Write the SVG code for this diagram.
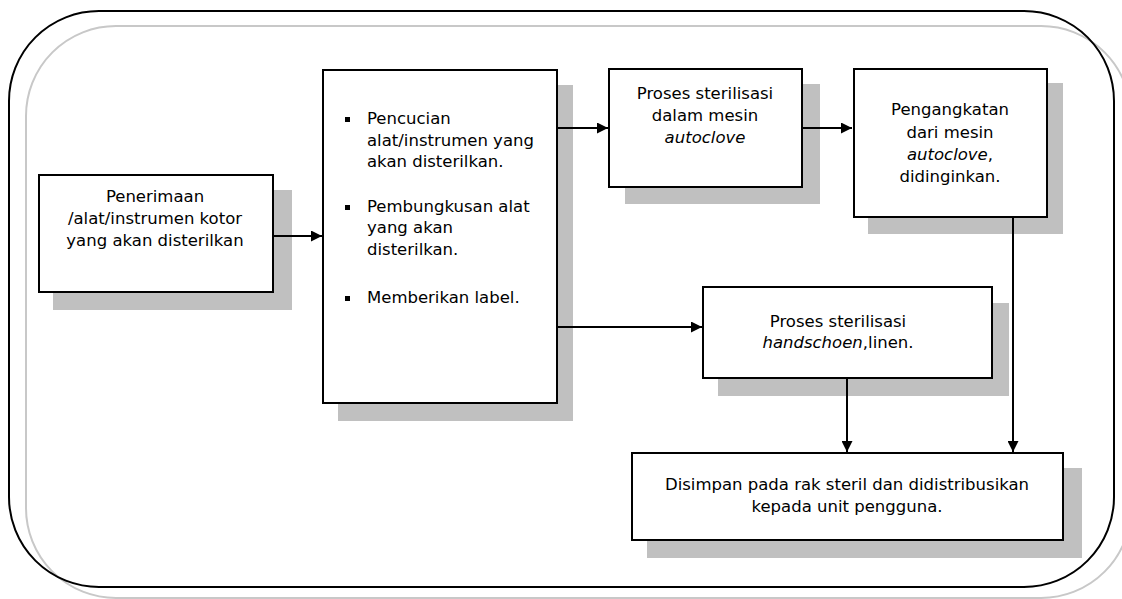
<svg xmlns="http://www.w3.org/2000/svg" width="1122" height="599" viewBox="0 0 1122 599">
  <style>
    .frame { fill: none; stroke: #000; stroke-width: 2; }
    .frame2 { fill: none; stroke: #c8c8c8; stroke-width: 2; }
    .shadow { fill: #c0c0c0; }
    .box { fill: #fff; stroke: #000; stroke-width: 2; }
    .t { font-family: "DejaVu Sans", Verdana, sans-serif; font-size: 16.5px; fill: #000; }
    .c { text-anchor: middle; }
    .i { font-style: italic; }
    .link { fill: none; stroke: #000; stroke-width: 2; }
  </style>
  <defs>
    <marker id="arrow" viewBox="0 0 10 10" refX="10" refY="5" markerWidth="5.5" markerHeight="5.5" orient="auto" markerUnits="strokeWidth">
      <path d="M0,0 L10,5 L0,10 Z" fill="#000"/>
    </marker>
  </defs>

  <rect width="1122" height="599" fill="#fff"/>

  <!-- outer frame with offset grey outline -->
  <rect class="frame2" x="26" y="26" width="1105" height="572" rx="90" ry="90"/>
  <rect class="frame" x="9" y="11" width="1105" height="576" rx="90" ry="90"/>

  <g id="penerimaan">
    <rect class="shadow" x="53" y="190" width="239" height="120"/>
    <rect class="box" x="39" y="175" width="234" height="117"/>
    <text class="t c" x="155" y="202">Penerimaan</text>
    <text class="t c" x="155" y="224">/alat/instrumen kotor</text>
    <text class="t c" x="155" y="246">yang akan disterilkan</text>
  </g>

  <g id="persiapan">
    <rect class="shadow" x="338" y="85" width="235" height="336"/>
    <rect class="box" x="323" y="70" width="234" height="333"/>
    <rect x="345" y="117" width="5" height="5" fill="#000"/>
    <text class="t" x="367" y="124">Pencucian</text>
    <text class="t" x="367" y="146">alat/instrumen yang</text>
    <text class="t" x="367" y="167">akan disterilkan.</text>
    <rect x="345" y="205" width="5" height="5" fill="#000"/>
    <text class="t" x="367" y="212">Pembungkusan alat</text>
    <text class="t" x="367" y="233">yang akan</text>
    <text class="t" x="367" y="255">disterilkan.</text>
    <rect x="345" y="296" width="5" height="5" fill="#000"/>
    <text class="t" x="367" y="303">Memberikan label.</text>
  </g>

  <g id="sterilisasi-autoclove">
    <rect class="shadow" x="625" y="84" width="195" height="120"/>
    <rect class="box" x="609" y="69" width="193" height="118"/>
    <text class="t c" x="705" y="99">Proses sterilisasi</text>
    <text class="t c" x="705" y="121">dalam mesin</text>
    <text class="t c i" x="705" y="143">autoclove</text>
  </g>

  <g id="pengangkatan">
    <rect class="shadow" x="868" y="83" width="195" height="151"/>
    <rect class="box" x="854" y="69" width="193" height="148"/>
    <text class="t c" x="950" y="115">Pengangkatan</text>
    <text class="t c" x="950" y="138">dari mesin</text>
    <text class="t c" x="950" y="160"><tspan class="i">autoclove</tspan>,</text>
    <text class="t c" x="950" y="182">didinginkan.</text>
  </g>

  <g id="sterilisasi-linen">
    <rect class="shadow" x="718" y="303" width="291" height="93"/>
    <rect class="box" x="703" y="287" width="289" height="91"/>
    <text class="t c" x="838" y="327">Proses sterilisasi</text>
    <text class="t c" x="838" y="348"><tspan class="i">handschoen</tspan>,linen.</text>
  </g>

  <g id="penyimpanan">
    <rect class="shadow" x="647" y="468" width="435" height="90"/>
    <rect class="box" x="632" y="453" width="431" height="87"/>
    <text class="t c" x="847" y="490">Disimpan pada rak steril dan didistribusikan</text>
    <text class="t c" x="847" y="512">kepada unit pengguna.</text>
  </g>

  <!-- connectors, drawn over the box shadows -->
  <g id="connectors">
    <line class="link" x1="273" y1="236" x2="322" y2="236" marker-end="url(#arrow)"/>
    <line class="link" x1="557" y1="128" x2="608" y2="128" marker-end="url(#arrow)"/>
    <line class="link" x1="802" y1="128" x2="852" y2="128" marker-end="url(#arrow)"/>
    <line class="link" x1="557" y1="327" x2="702" y2="327" marker-end="url(#arrow)"/>
    <line class="link" x1="847" y1="378" x2="847" y2="452" marker-end="url(#arrow)"/>
    <line class="link" x1="1013" y1="217" x2="1013" y2="452" marker-end="url(#arrow)"/>
  </g>
</svg>
